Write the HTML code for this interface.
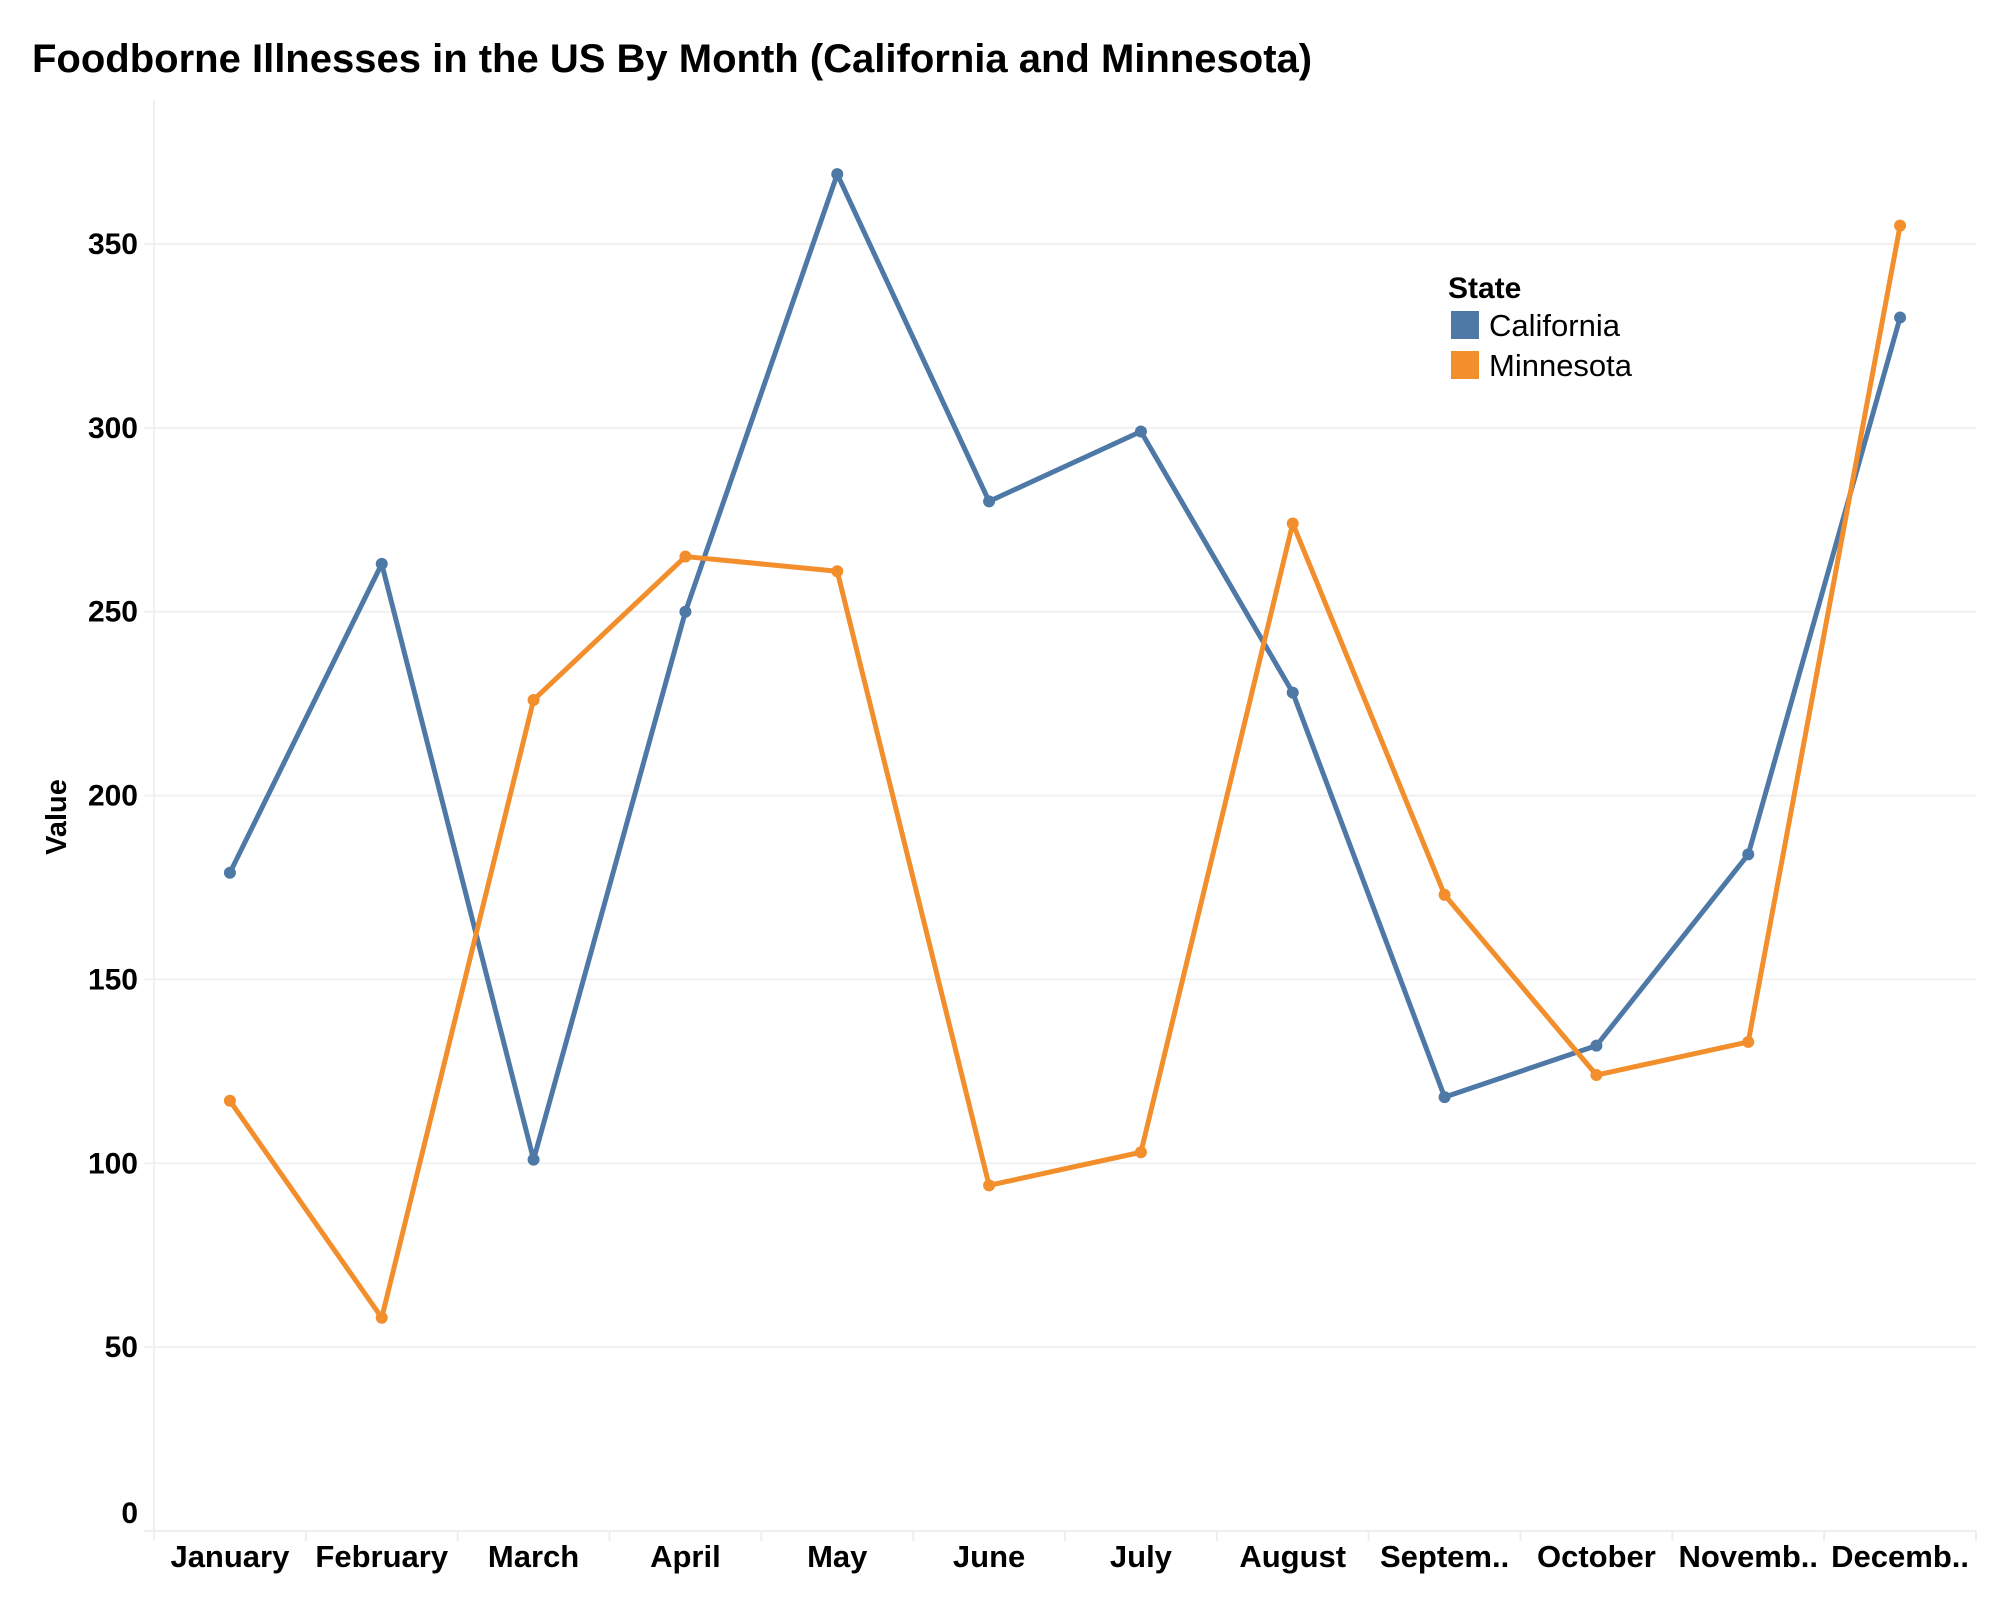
<!DOCTYPE html>
<html><head><meta charset="utf-8"><style>
body{margin:0;background:#fff;}
svg{display:block;font-family:"Liberation Sans",Arial,sans-serif;}
</style></head><body>
<svg id="chart" width="2000" height="1600">
<text x="32" y="72" font-size="40" font-weight="bold" fill="#000">Foodborne Illnesses in the US By Month (California and Minnesota)</text>
<text transform="translate(66,817) rotate(-90)" text-anchor="middle" font-size="29" font-weight="bold">Value</text>
<g id="grid"></g><g id="axes"></g><g id="series"></g>
<g>
<text x="1448" y="298" font-size="30" font-weight="bold">State</text>
<rect x="1451" y="311" width="28" height="28" fill="#4e79a7"/>
<text x="1489" y="336" font-size="31">California</text>
<rect x="1451" y="351" width="28" height="28" fill="#f28e2b"/>
<text x="1489" y="376" font-size="31">Minnesota</text>
</g>
</svg>
<script>
const categories=["January","February","March","April","May","June","July","August","Septem..","October","Novemb..","Decemb.."];
const california=[179,263,101,250,369,280,299,228,118,132,184,330];
const minnesota=[117,58,226,265,261,94,103,274,173,124,133,355];
const yTicks=[0,50,100,150,200,250,300,350];
const NS="http://www.w3.org/2000/svg";
const L=154,R=1976,T=100,B=1531,yMax=350,y350=244;
const bw=(R-L)/categories.length;
function x(i){return L+bw*(i+0.5);}
function y(v){return B-(B-y350)*v/yMax;}
function mk(t,a,p){const e=document.createElementNS(NS,t);for(const k in a)e.setAttribute(k,a[k]);p.appendChild(e);return e;}
const grid=document.getElementById('grid'),axes=document.getElementById('axes'),ser=document.getElementById('series');
mk('line',{x1:L,y1:T,x2:L,y2:B+10,stroke:'#f0f0f0','stroke-width':2},grid);
yTicks.forEach(v=>{
 const g=mk('line',{x1:144,y1:y(v),x2:R,y2:y(v),stroke:v===0?'#eeeeee':'#f0f0f0','stroke-width':2},grid);
 
 
 const t=mk('text',{x:138,y:y(v)+(v===0?-8:10),'text-anchor':'end','font-size':30,'font-weight':'bold'},axes);
 t.textContent=v;
 
 
});
categories.forEach((c,i)=>{
 mk('line',{x1:L+bw*(i+1),y1:B,x2:L+bw*(i+1),y2:B+10,stroke:'#eeeeee','stroke-width':2},grid);
 const t=mk('text',{x:x(i),y:1567,'text-anchor':'middle','font-size':31,'font-weight':'bold'},axes);
 t.textContent=c;
 
 
});
function draw(data,color,name){
 const p=mk('polyline',{points:data.map((v,i)=>x(i)+','+y(v)).join(' '),fill:'none',stroke:color,'stroke-width':5,'stroke-linejoin':'round'},ser);
 
 
 data.forEach((v,i)=>{
  const c=mk('circle',{cx:x(i),cy:y(v),r:6,fill:color},ser);
  
  
 });
}
draw(california,'#4e79a7','california');
draw(minnesota,'#f28e2b','minnesota');
</script>
</body></html>
